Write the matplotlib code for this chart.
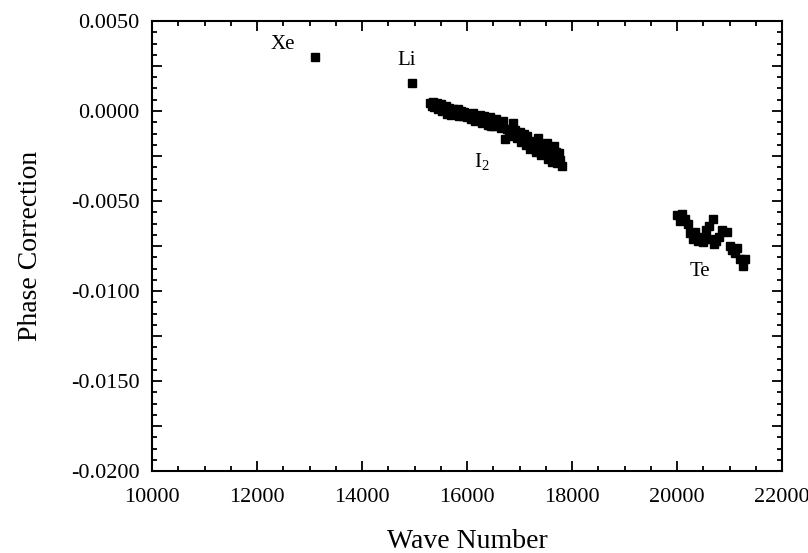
import matplotlib
matplotlib.use("Agg")
import matplotlib.pyplot as plt
from matplotlib.ticker import MultipleLocator, FuncFormatter

plt.rcParams['font.family'] = ['Liberation Serif', 'DejaVu Serif']
plt.rcParams['axes.unicode_minus'] = False
plt.rcParams['mathtext.fontset'] = 'custom'
plt.rcParams['mathtext.rm'] = 'Liberation Serif'

# Data
xe_x = [13100]
xe_y = [0.0030]
li_x = [14950]
li_y = [0.00157]

i2_x = [15300, 15330, 15350, 15380, 15420, 15450, 15480, 15500, 15530, 15560,
        15600, 15620, 15650, 15700, 15740, 15780, 15820, 15850, 15880, 15920,
        15950, 16000, 16030, 16080, 16120, 16150, 16200, 16250, 16280, 16320,
        16350, 16400, 16430, 16480, 16520, 16560, 16600, 16640, 16680, 16725,
        16760, 16800, 16850, 16883, 16920, 16950, 17000, 17030, 17080, 17120,
        17150, 17200, 17230, 17280, 17320, 17360, 17400, 17440, 17480, 17520,
        17550, 17580, 17620, 17650, 17680, 17720, 17750, 17780, 17800, 17700,
        17600, 17450, 17300, 17100, 16980, 16450, 16050, 15760]
i2_y = [0.00045, 0.00030, 0.00050, 0.00020, 0.00045, 0.00010, 0.00035, 0.00040, 0.00000, 0.00025,
        0.00030, -0.00015, 0.00015, -0.00020, 0.00010, -0.00005, 0.00010, -0.00025, 0.00000, -0.00030,
        -0.00005, -0.00035, -0.00015, -0.00045, -0.00010, -0.00055, -0.00030, -0.00020, -0.00065, -0.00025,
        -0.00055, -0.00075, -0.00035, -0.00060, -0.00085, -0.00045, -0.00070, -0.00095, -0.00055, -0.00155,
        -0.00100, -0.00120, -0.00140, -0.00065, -0.00105, -0.00150, -0.00115, -0.00170, -0.00125, -0.00190,
        -0.00140, -0.00210, -0.00165, -0.00195, -0.00230, -0.00150, -0.00245, -0.00195, -0.00235, -0.00175,
        -0.00265, -0.00215, -0.00285, -0.00195, -0.00255, -0.00290, -0.00235, -0.00270, -0.00305, -0.00225,
        -0.00240, -0.00215, -0.00180, -0.00160, -0.00130, -0.00085, -0.00020, -0.00015]

te_x = [20000, 20050, 20100, 20150, 20200, 20250, 20300, 20350, 20400, 20450,
        20500, 20550, 20600, 20620, 20680, 20700, 20750, 20800, 20850, 20950,
        21000, 21050, 21100, 21150, 21200, 21250, 21300]
te_y = [-0.0058, -0.0061, -0.0057, -0.0060, -0.0063, -0.0068, -0.0071, -0.0067, -0.0072, -0.0070,
        -0.0073, -0.0066, -0.0064, -0.0071, -0.0060, -0.0074, -0.0072, -0.0070, -0.0066, -0.0067,
        -0.0075, -0.0077, -0.0079, -0.0076, -0.0082, -0.0086, -0.0082]

labels = ["Xe", "Li", "I$_2$", "Te"]
label_x = [12495, 14857, 16286, 20438]
label_y = [0.00372, 0.00283, -0.00283, -0.00894]

fig = plt.figure(figsize=(8.08, 5.53), dpi=100)
ax = fig.add_axes([152/808, 1-471/553, 630/808, 450/553])

for xs, ys in [(xe_x, xe_y), (li_x, li_y), (i2_x, i2_y), (te_x, te_y)]:
    ax.plot(xs, ys, linestyle='none', marker='s', ms=5.5, color='black')

for t, x, y in zip(labels, label_x, label_y):
    ax.text(x, y, t, fontsize=15, ha='center', va='center')

ax.set_xlim(10000, 22000)
ax.set_ylim(-0.02, 0.005)
ax.xaxis.set_major_locator(MultipleLocator(2000))
ax.xaxis.set_minor_locator(MultipleLocator(500))
ax.yaxis.set_major_locator(MultipleLocator(0.0025))
ax.yaxis.set_minor_locator(MultipleLocator(0.000625))

def yfmt(v, pos):
    k = round(v / 0.0025)
    if k % 2 != 0:
        return ""
    return "%.4f" % (k * 0.0025 + 0.0)

ax.yaxis.set_major_formatter(FuncFormatter(yfmt))
ax.xaxis.set_major_formatter(FuncFormatter(lambda v, p: "%d" % round(v)))

ax.tick_params(which='both', direction='in', top=True, right=True, width=1.3, labelsize=16)
ax.tick_params(which='major', length=7)
ax.tick_params(which='minor', length=3.6)
ax.tick_params(axis='x', pad=12)
ax.tick_params(axis='y', pad=9)
for s in ax.spines.values():
    s.set_linewidth(1.5)

ax.set_xlabel("Wave Number", fontsize=20, labelpad=16)
ax.set_ylabel("Phase Correction", fontsize=20, labelpad=20)

fig.savefig("out.png", dpi=100)
